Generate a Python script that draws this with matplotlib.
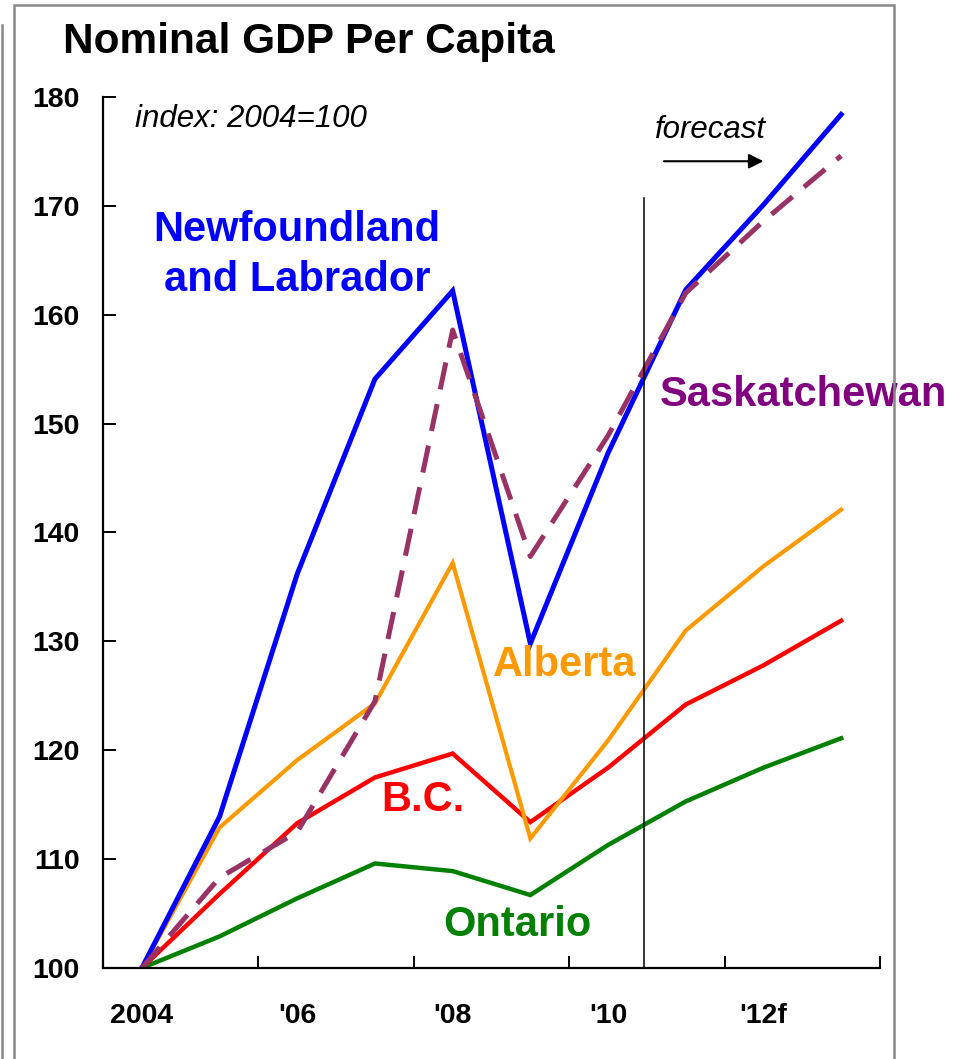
import matplotlib.pyplot as plt
from matplotlib.patches import Rectangle
from matplotlib.lines import Line2D
import numpy as np

plt.rcParams['font.family'] = ['Liberation Sans', 'DejaVu Sans']

# data, index 2004=100
years = [2004, 2005, 2006, 2007, 2008, 2009, 2010, 2011, 2012, 2013]
nfld = [100, 113.9, 136.2, 154.1, 162.2, 129.8, 147.3, 162.3, 170.1, 178.4]
sask = [100, 108.3, 112.5, 124.5, 158.6, 137.8, 148.9, 162.0, 168.6, 174.6]
alberta = [100, 112.9, 119.1, 124.3, 137.2, 111.9, 120.9, 131.0, 136.9, 142.1]
bc = [100, 106.8, 113.3, 117.5, 119.7, 113.4, 118.4, 124.2, 127.8, 131.9]
ontario = [100, 102.9, 106.4, 109.6, 108.9, 106.7, 111.3, 115.3, 118.4, 121.1]
xlabels = ['2004', "'06", "'08", "'10", "'12f"]
yticks = [100, 110, 120, 130, 140, 150, 160, 170, 180]

fig = plt.figure(figsize=(9.72, 10.59), dpi=100)
ax = fig.add_axes([103/972, 1 - 968/1059, 777/972, 871/1059])

x = np.arange(len(years)) + 0.5
ax.plot(x, ontario, color='#008000', lw=3.2, solid_joinstyle='miter')
ax.plot(x, bc, color='#ff0000', lw=3.2, solid_joinstyle='miter')
ax.plot(x, alberta, color='#ff9900', lw=3.0, solid_joinstyle='miter')
ax.plot(x, nfld, color='#0000ff', lw=3.6, solid_joinstyle='miter')
ax.plot(x, sask, color='#993366', lw=3.6, dashes=(5.5, 3))

ax.set_xlim(0, 10)
ax.set_ylim(100, 180)

# forecast divider
ax.plot([6.96, 6.96], [100, 170.7], color='black', lw=1.1)
ax.annotate('', xy=(8.5, 174.1), xytext=(7.22, 174.1),
            arrowprops=dict(arrowstyle='-|>', color='black', lw=1.5,
                            mutation_scale=22, shrinkA=0, shrinkB=0))
ax.text(7.1, 177.0, 'forecast', fontsize=22.5, style='italic', va='center')
ax.text(0.41, 178.0, 'index: 2004=100', fontsize=22.5, style='italic', va='center')

# series labels
lab = dict(fontsize=30, fontweight='bold', va='center', clip_on=False)
ax.text(2.5, 165.5, 'Newfoundland\nand Labrador', color='#0000ff', ha='center',
        multialignment='center', linespacing=1.32, **lab)
ax.text(7.17, 152.6, 'Saskatchewan', color='#800080', ha='left', **lab)
ax.text(5.02, 127.8, 'Alberta', color='#ff9900', ha='left', **lab)
ax.text(3.58, 115.4, 'B.C.', color='#ff0000', ha='left', **lab)
ax.text(4.38, 103.95, 'Ontario', color='#008000', ha='left', **lab)

# axes styling
for s in ['top', 'right']:
    ax.spines[s].set_visible(False)
for s in ['left', 'bottom']:
    ax.spines[s].set_linewidth(1.6)
ax.set_yticks(yticks)
ax.set_yticklabels([str(v) for v in yticks], fontsize=20.5, fontweight='bold')
ax.tick_params(axis='y', direction='in', length=9, width=1.4, pad=17)
ax.set_xticks([0, 2, 4, 6, 8, 10])
ax.set_xticklabels([])
ax.tick_params(axis='x', which='major', direction='in', length=9, width=1.4)
ax.set_xticks([0.5, 2.5, 4.5, 6.5, 8.5], minor=True)
ax.set_xticklabels(xlabels, minor=True, fontsize=20.5, fontweight='bold')
ax.tick_params(axis='x', which='minor', length=0, pad=25)

fig.text(63/972, 1 - 53/1059, 'Nominal GDP Per Capita', fontsize=30.5,
         fontweight='bold', va='baseline')

# gray frame around the chart
fig.patches.append(Rectangle((14/972, -0.05), 880/972, 1.05 - 5/1059,
                             transform=fig.transFigure, fill=False,
                             edgecolor='#888888', lw=1.8))
fig.lines.append(Line2D([1.5/972, 1.5/972], [0, 1 - 25/1059],
                        transform=fig.transFigure, color='#888888', lw=1.8))

fig.savefig('out.png', dpi=100)
